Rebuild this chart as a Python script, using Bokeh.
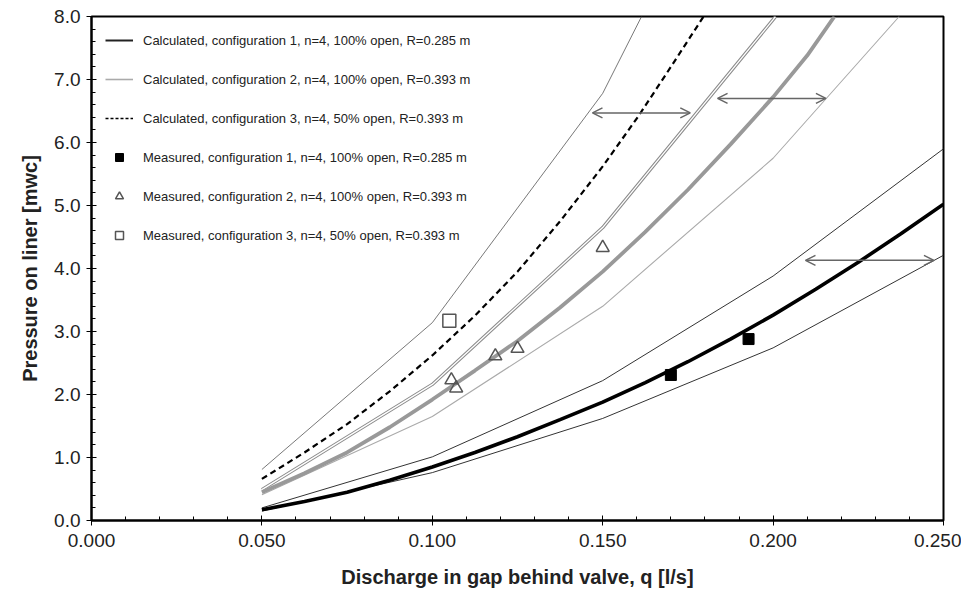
from bokeh.plotting import figure
from bokeh.models import (FixedTicker, NumeralTickFormatter, Arrow, OpenHead,
                          ColumnDataSource, Legend, LegendItem, Range1d)
from bokeh.embed import file_html
from bokeh.resources import INLINE

# ---------------- data ----------------
# calculated curves
q_calc1 = [0.05, 0.0625, 0.075, 0.0875, 0.1, 0.1125, 0.125, 0.1375, 0.15,
           0.1625, 0.175, 0.1875, 0.2, 0.2125, 0.225, 0.2375, 0.25]
p_calc1 = [0.17, 0.30, 0.45, 0.64, 0.85, 1.08, 1.33, 1.60, 1.88,
           2.19, 2.52, 2.88, 3.26, 3.67, 4.10, 4.55, 5.02]

q_calc2 = [0.05, 0.0625, 0.075, 0.0875, 0.1, 0.1125, 0.125, 0.1375, 0.15,
           0.1625, 0.175, 0.1875, 0.2, 0.21, 0.218]
p_calc2 = [0.45, 0.75, 1.08, 1.48, 1.92, 2.38, 2.85, 3.38, 3.95,
           4.58, 5.25, 5.97, 6.72, 7.38, 8.0]

q_calc3 = [0.05, 0.0625, 0.075, 0.0875, 0.1, 0.1125, 0.125, 0.1375, 0.15,
           0.1605, 0.17, 0.1796]
p_calc3 = [0.66, 1.08, 1.53, 2.05, 2.62, 3.25, 3.95, 4.75, 5.62,
           6.42, 7.20, 8.0]

# bounds (thin lines)
q_up1 = [0.05, 0.1, 0.15, 0.2, 0.25]
p_up1 = [0.20, 1.01, 2.22, 3.88, 5.90]
q_lo1 = [0.05, 0.1, 0.15, 0.2, 0.25]
p_lo1 = [0.15, 0.76, 1.62, 2.74, 4.21]

q_up2 = [0.05, 0.1, 0.15, 0.2, 0.2007]
p_up2 = [0.49, 2.16, 4.65, 7.95, 8.0]
q_lo2 = [0.05, 0.1, 0.15, 0.2, 0.237]
p_lo2 = [0.41, 1.65, 3.40, 5.75, 8.0]

q_up3 = [0.05, 0.1, 0.15, 0.1614]
p_up3 = [0.81, 3.14, 6.78, 8.0]

# measured points
q_meas1 = [0.170, 0.1928]
p_meas1 = [2.31, 2.88]
q_meas2 = [0.1056, 0.107, 0.1185, 0.125, 0.150]
p_meas2 = [2.23, 2.10, 2.61, 2.73, 4.33]
q_meas3 = [0.105]
p_meas3 = [3.17]

# double-headed range arrows
arrow_x0 = [0.147, 0.1837, 0.2095]
arrow_x1 = [0.1757, 0.2155, 0.2472]
arrow_y = [6.47, 6.70, 4.13]

labels = [
    "Calculated, configuration 1, n=4, 100% open, R=0.285 m",
    "Calculated, configuration 2, n=4, 100% open, R=0.393 m",
    "Calculated, configuration 3, n=4, 50% open, R=0.393 m",
    "Measured, configuration 1, n=4, 100% open, R=0.285 m",
    "Measured, configuration 2, n=4, 100% open, R=0.393 m",
    "Measured, configuration 3, n=4, 50% open, R=0.393 m",
]
x_ticks = [0.0, 0.05, 0.1, 0.15, 0.2, 0.25]
y_ticks = [0, 1, 2, 3, 4, 5, 6, 7, 8]

FONT = "Liberation Sans"

p = figure(width=961, height=590, output_backend="svg", toolbar_location=None,
           x_range=Range1d(0, 0.25), y_range=Range1d(0, 8),
           min_border_left=91, min_border_right=18, min_border_top=16,
           min_border_bottom=69)
p.grid.visible = False
p.outline_line_color = "black"
p.outline_line_width = 2
p.background_fill_color = "white"

# bounds
p.line(q_up1, p_up1, line_color="#333333", line_width=1)
p.line(q_lo1, p_lo1, line_color="#333333", line_width=1)
p.line(q_up2, p_up2, line_color="#8c8c8c", line_width=3.4)
p.line(q_up2, p_up2, line_color="white", line_width=1.3)
p.line(q_lo2, p_lo2, line_color="#aaaaaa", line_width=1.1)
p.line(q_up3, p_up3, line_color="#555555", line_width=0.8)

# calculated
p.line(q_calc1, p_calc1, line_color="black", line_width=3.6)
p.line(q_calc2, p_calc2, line_color="#999999", line_width=3.8)
p.line(q_calc3, p_calc3, line_color="black", line_width=2.2, line_dash="6 4")

# legend-only line samples (thinner, as drawn in the reference legend);
# a single NaN point draws nothing in the plot area
nan = float("nan")
r1 = p.line(x=[nan], y=[nan], line_color="#222222", line_width=2)
r2 = p.line(x=[nan], y=[nan], line_color="#aaaaaa", line_width=1.6)
r3 = p.line(x=[nan], y=[nan], line_color="black", line_width=1.6, line_dash="3 2")

# measured
m1 = p.scatter(q_meas1, p_meas1, marker="square", size=11, fill_color="black",
               line_color="black")
m2 = p.scatter(q_meas2, p_meas2, marker="triangle", size=13, fill_color=None,
               line_color="#555555", line_width=1.5)
m3 = p.scatter(q_meas3, p_meas3, marker="square", size=13, fill_color=None,
               line_color="#555555", line_width=1.5)

# arrows
asrc = ColumnDataSource(dict(x0=arrow_x0, x1=arrow_x1, y=arrow_y))
p.add_layout(Arrow(x_start="x0", y_start="y", x_end="x1", y_end="y", source=asrc,
                   line_color="#666666", line_width=1.5,
                   start=OpenHead(size=10, line_color="#666666", line_width=1.5),
                   end=OpenHead(size=10, line_color="#666666", line_width=1.5)))

legend = Legend(items=[LegendItem(label=l, renderers=[r]) for l, r in
                       zip(labels, [r1, r2, r3, m1, m2, m3])],
                location="top_left", margin=4, padding=10, spacing=19,
                glyph_width=28, glyph_height=20, label_height=20,
                label_standoff=10, label_text_font=FONT,
                label_text_font_size="13px", label_text_color="#222222",
                border_line_alpha=0, background_fill_alpha=0)
p.add_layout(legend)

# axes
for ax in (p.xaxis[0], p.yaxis[0]):
    ax.axis_line_width = 2
    ax.axis_line_color = "black"
    ax.major_tick_in = 5
    ax.major_tick_out = 5
    ax.minor_tick_in = 4
    ax.minor_tick_out = 0
    ax.major_tick_line_color = "black"
    ax.minor_tick_line_color = "black"
    ax.major_label_text_font = FONT
    ax.major_label_text_font_size = "19px"
    ax.major_label_text_color = "#222222"
    ax.axis_label_text_font = FONT
    ax.axis_label_text_font_size = "20px"
    ax.axis_label_text_font_style = "bold"
    ax.axis_label_text_color = "#222222"

p.xaxis.ticker = FixedTicker(ticks=x_ticks, minor_ticks=[i * 0.01 for i in range(26)])
p.yaxis.ticker = FixedTicker(ticks=y_ticks, minor_ticks=[i * 0.2 for i in range(41)])
p.xaxis.formatter = NumeralTickFormatter(format="0.000")
p.yaxis.formatter = NumeralTickFormatter(format="0.0")
p.xaxis.axis_label = "Discharge in gap behind valve, q [l/s]"
p.yaxis.axis_label = "Pressure on liner [mwc]"
p.xaxis.major_label_standoff = 8
p.yaxis.major_label_standoff = 6
p.xaxis.axis_label_standoff = 16
p.yaxis.axis_label_standoff = 10

open("out.html", "w").write(file_html(p, INLINE))
